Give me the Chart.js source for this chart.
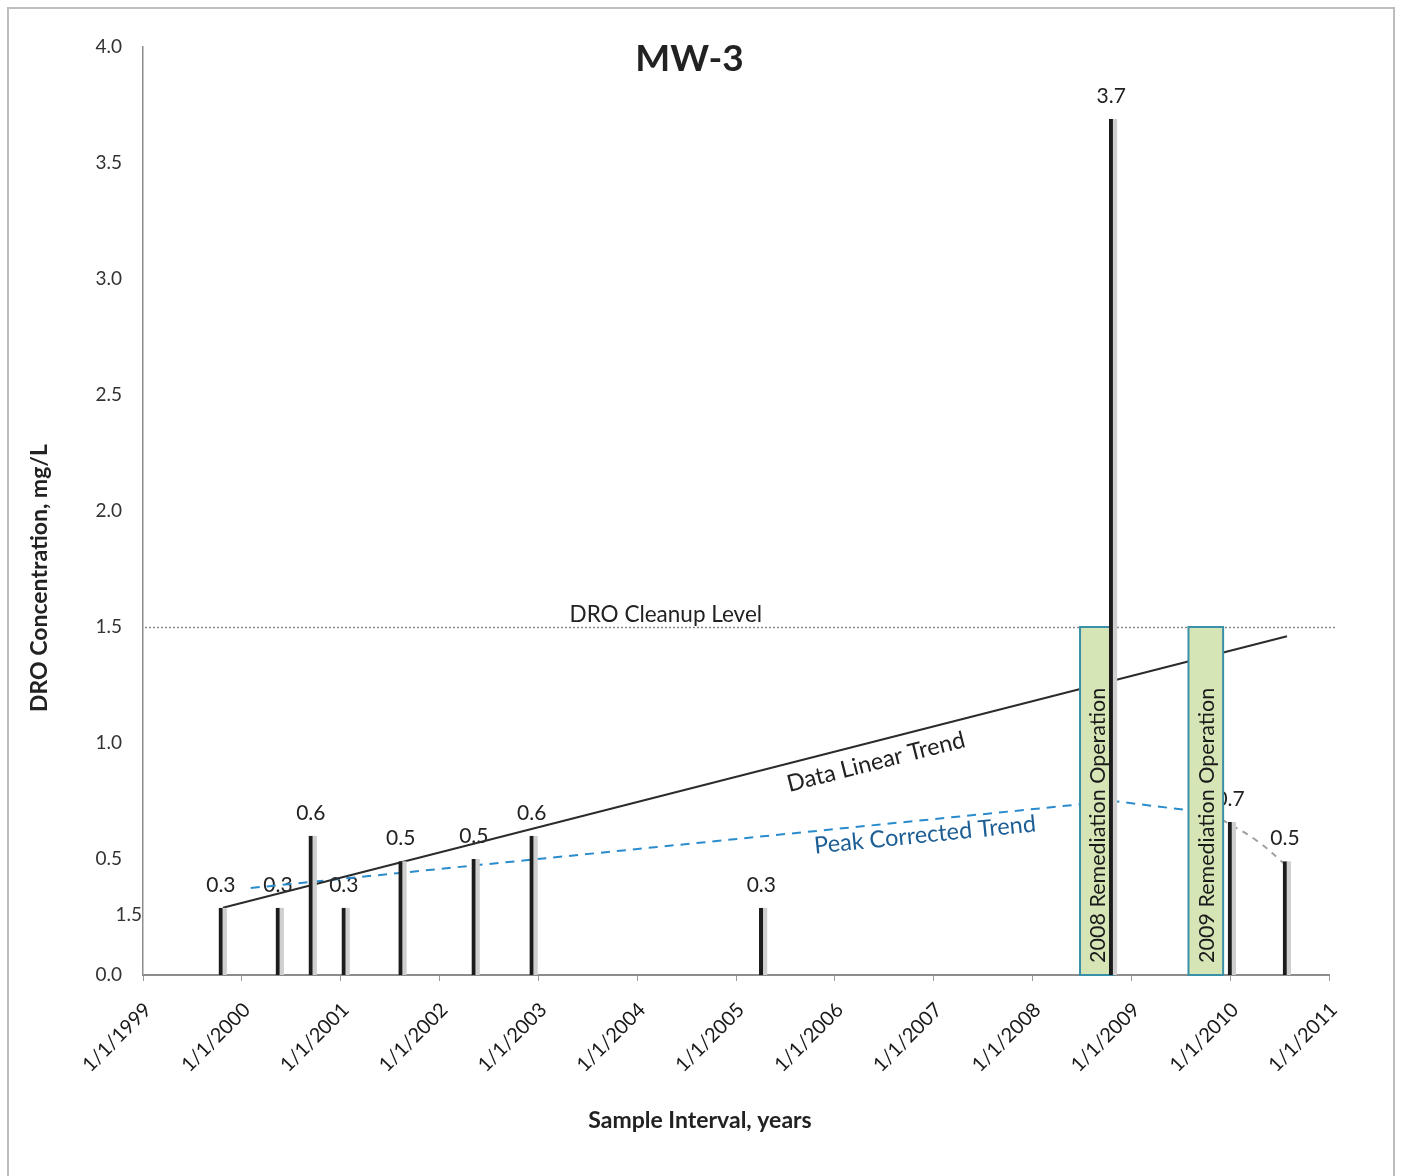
<!DOCTYPE html>
<html>
<head>
<meta charset="utf-8">
<title>MW-3</title>
<script src="https://cdn.jsdelivr.net/npm/chart.js@4.4.0/dist/chart.umd.min.js"></script>
<style>
  html, body { margin: 0; padding: 0; background: #fff; }
  #wrap { position: relative; width: 1401px; height: 1176px; overflow: hidden; }
  #frame { position: absolute; left: 7px; top: 7px; width: 1388px; height: 1220px; border: 2px solid #bdbdbd; box-sizing: border-box; }
  #mw3Chart { position: absolute; left: 0; top: 0; }
</style>
</head>
<body>
<div id="wrap">
  <div id="frame"></div>
  <canvas id="mw3Chart" width="1401" height="1176"></canvas>
</div>
<script>
    // Sample results, DRO mg/L
    const sampleDates = ['1999-10-23', '2000-05-21', '2000-09-20', '2001-01-20', '2001-08-18', '2002-05-15',
                         '2002-12-15', '2005-04-12', '2008-10-26', '2010-01-08', '2010-07-30'];
    const droValues = [0.29, 0.29, 0.6, 0.29, 0.49, 0.5, 0.6, 0.29, 3.69, 0.66, 0.49];

    // Cleanup level
    const cleanupLevel = 1.5;

    // Trend lines
    const linearTrendDates = ['1999-10-23', '2010-07-30'];
    const linearTrendValues = [0.29, 1.46];
    const peakTrendDates = ['2000-02-03', '2008-10-26', '2009-07-31', '2009-12-01'];
    const peakTrendValues = [0.375, 0.75, 0.71, 0.67];
    const tailTrendDates = ['2009-12-01', '2010-04-08', '2010-07-30'];
    const tailTrendValues = [0.67, 0.58, 0.47];

    // Remediation periods (boxes from 0 to cleanup level)
    const remediationStarts = ['2008-06-25', '2009-07-31'];
    const remediationEnds = ['2008-10-26', '2009-12-06'];
    const remediationLabels = ['2008 Remediation Operation', '2009 Remediation Operation'];

    // Axis
    const yearMin = 1999;
    const yearMax = 2011;
    const strayAxisValue = 0.26;
    const strayAxisText = '1.5';

    const FONT = 'Lato, "Open Sans", sans-serif';

    // date string -> decimal year
    function toYear(s) {
      const d = new Date(s + 'T00:00:00Z');
      const y = d.getUTCFullYear();
      const start = Date.UTC(y, 0, 1);
      const end = Date.UTC(y + 1, 0, 1);
      return y + (d.getTime() - start) / (end - start);
    }

    function points(dates, values) {
      return dates.map((d, i) => ({ x: toYear(d), y: values[i] }));
    }

    const annotationPlugin = {
      id: 'mw3Annotations',
      beforeDatasetsDraw(chart) {
        const { ctx, chartArea, scales } = chart;
        const x = scales.x, y = scales.y;
        ctx.save();

        // cleanup level line
        const cy = Math.round(y.getPixelForValue(cleanupLevel)) + 0.5;
        ctx.strokeStyle = '#8a8a8a';
        ctx.lineWidth = 1.5;
        ctx.setLineDash([2, 2]);
        ctx.beginPath();
        ctx.moveTo(chartArea.left + 2, cy);
        ctx.lineTo(chartArea.right + 6, cy);
        ctx.stroke();
        ctx.setLineDash([]);

        ctx.fillStyle = '#222';
        ctx.font = '22.5px ' + FONT;
        ctx.textAlign = 'center';
        ctx.textBaseline = 'alphabetic';
        ctx.fillText('DRO Cleanup Level', x.getPixelForValue(2004.29), cy - 6);

        // value labels
        ctx.font = '21px ' + FONT;
        sampleDates.forEach((d, i) => {
          const px = x.getPixelForValue(toYear(d)) - 2;
          const py = y.getPixelForValue(droValues[i]);
          ctx.fillText(droValues[i].toFixed(1), px, py - 16);
        });

        // title
        ctx.font = 'bold 37px ' + FONT;
        ctx.textBaseline = 'middle';
        ctx.fillText('MW-3', x.getPixelForValue(2004.53), chartArea.top + 12);

        // trend labels
        const p1 = { x: x.getPixelForValue(toYear(linearTrendDates[0])), y: y.getPixelForValue(linearTrendValues[0]) };
        const p2 = { x: x.getPixelForValue(toYear(linearTrendDates[1])), y: y.getPixelForValue(linearTrendValues[1]) };
        const a1 = Math.atan2(p2.y - p1.y, p2.x - p1.x);
        ctx.save();
        ctx.translate(876, 762);
        ctx.rotate(a1);
        ctx.font = '23.5px ' + FONT;
        ctx.fillStyle = '#222';
        ctx.fillText('Data Linear Trend', 0, 0);
        ctx.restore();

        const q1 = { x: x.getPixelForValue(toYear(peakTrendDates[0])), y: y.getPixelForValue(peakTrendValues[0]) };
        const q2 = { x: x.getPixelForValue(toYear(peakTrendDates[1])), y: y.getPixelForValue(peakTrendValues[1]) };
        const a2 = Math.atan2(q2.y - q1.y, q2.x - q1.x);
        ctx.save();
        ctx.translate(925, 835);
        ctx.rotate(a2);
        ctx.font = '23.5px ' + FONT;
        ctx.fillStyle = '#1d5e95';
        ctx.fillText('Peak Corrected Trend', 0, 0);
        ctx.restore();

        // odd extra label next to the axis
        ctx.font = '19px ' + FONT;
        ctx.fillStyle = '#333';
        ctx.textAlign = 'right';
        ctx.fillText(strayAxisText, chartArea.left - 1, y.getPixelForValue(strayAxisValue));

        // axis titles
        ctx.fillStyle = '#222';
        ctx.font = 'bold 23px ' + FONT;
        ctx.textAlign = 'center';
        ctx.fillText('Sample Interval, years', 700, 1121);
        ctx.save();
        ctx.translate(40, 578);
        ctx.rotate(-Math.PI / 2);
        ctx.fillText('DRO Concentration, mg/L', 0, 0);
        ctx.restore();

        ctx.restore();
      },
      beforeDatasetDraw(chart, args) {
        // boxes go over the trend lines but under the bars
        if (chart.data.datasets[args.index].type !== 'bar') return;
        const { ctx, scales } = chart;
        const x = scales.x, y = scales.y;
        ctx.save();
        remediationStarts.forEach((s, i) => {
          const left = x.getPixelForValue(toYear(s));
          const right = x.getPixelForValue(toYear(remediationEnds[i]));
          const top = y.getPixelForValue(cleanupLevel);
          const bottom = y.getPixelForValue(0);
          ctx.fillStyle = '#d5e5b6';
          ctx.fillRect(left, top, right - left, bottom - top);
          ctx.strokeStyle = '#3a90a8';
          ctx.lineWidth = 2;
          ctx.strokeRect(left, top, right - left, bottom - top);
          ctx.save();
          ctx.translate((left + right) / 2 + 1, bottom - 12);
          ctx.rotate(-Math.PI / 2);
          ctx.fillStyle = '#1a1a1a';
          ctx.font = '21.5px ' + FONT;
          ctx.textAlign = 'left';
          ctx.textBaseline = 'middle';
          ctx.fillText(remediationLabels[i], 0, 0);
          ctx.restore();
        });
        ctx.restore();
      }
    };

    const ctx = document.getElementById('mw3Chart').getContext('2d');
    const mw3Chart = new Chart(ctx, {
      type: 'line',
      data: {
        datasets: [
          {
            type: 'bar',
            label: 'DRO',
            data: points(sampleDates, droValues),
            backgroundColor: '#cfcfcf',
            borderColor: '#1c1c1c',
            borderWidth: { left: 4, right: 0, top: 0, bottom: 0 },
            borderSkipped: false,
            barThickness: 8,
            order: 0
          },
          {
            label: 'Data Linear Trend',
            data: points(linearTrendDates, linearTrendValues),
            borderColor: '#2b2b2b',
            borderWidth: 2,
            pointRadius: 0,
            order: 1
          },
          {
            label: 'Peak Corrected Trend',
            data: points(peakTrendDates, peakTrendValues),
            borderColor: '#2a8ccc',
            borderWidth: 2,
            borderDash: [9, 7],
            pointRadius: 0,
            order: 2
          },
          {
            label: 'Peak Corrected Tail',
            data: points(tailTrendDates, tailTrendValues),
            borderColor: '#a0a0a0',
            borderWidth: 2,
            borderDash: [6, 6],
            pointRadius: 0,
            tension: 0.4,
            order: 3
          }
        ]
      },
      options: {
        responsive: false,
        animation: false,
        layout: { padding: { left: 10, right: 72, top: 47, bottom: 20 } },
        plugins: {
          legend: { display: false },
          tooltip: { enabled: false }
        },
        scales: {
          x: {
            type: 'linear',
            min: yearMin,
            max: yearMax,
            offset: false,
            afterFit(scale) { scale.height = 181; },
            ticks: {
              stepSize: 1,
              autoSkip: false,
              maxRotation: 45,
              minRotation: 45,
              padding: 17,
              labelOffset: 5,
              color: '#1a1a1a',
              font: { family: FONT, size: 20 },
              callback: v => '1/1/' + v
            },
            grid: { display: true, offset: false, drawOnChartArea: false, drawTicks: true, tickLength: 6, color: '#999' },
            border: { display: true, color: '#8c8c8c', width: 2 }
          },
          y: {
            min: 0,
            max: 4,
            afterFit(scale) { scale.width = 133; },
            ticks: {
              stepSize: 0.5,
              padding: 21,
              color: '#333',
              font: { family: FONT, size: 19 },
              callback: v => v.toFixed(1)
            },
            grid: { display: false, drawTicks: false },
            border: { display: true, color: '#8c8c8c', width: 1.5 }
          }
        }
      },
      plugins: [annotationPlugin]
    });
</script>
</body>
</html>
